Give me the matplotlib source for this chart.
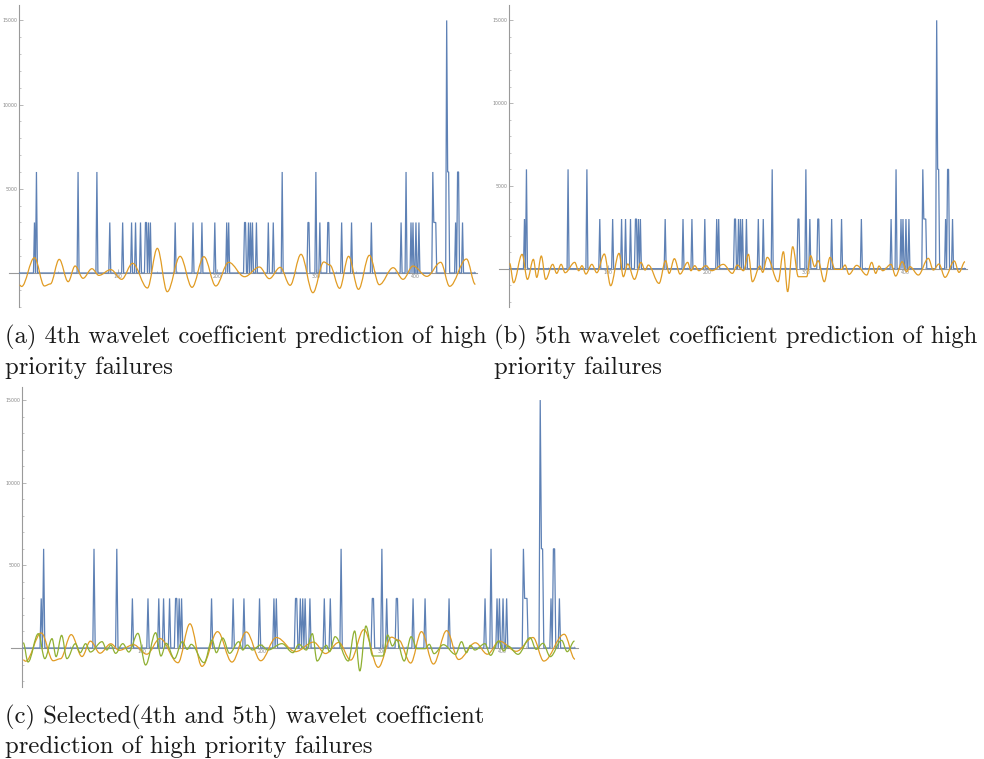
import numpy as np
import matplotlib
matplotlib.use("Agg")
import matplotlib.pyplot as plt
from matplotlib.path import Path
from matplotlib.patches import PathPatch
from matplotlib.ticker import FixedLocator, MultipleLocator

# ---- data -------------------------------------------------------------
# high priority failures per period (nonzero entries; all other periods are 0)
n_periods = 461
fail_x = [16, 18, 60, 79, 92, 105, 114, 118, 123, 128, 129, 131, 133, 158,
          176, 185, 198, 210, 212, 228, 229, 232, 234, 236, 240, 252, 257,
          266, 292, 293, 300, 304, 312, 313, 326, 336, 356, 386, 391, 396,
          398, 401, 404, 418, 419, 420, 421, 432, 433, 434, 441, 443, 444,
          448]
fail_v = [3000, 6000, 6000, 6000, 3000, 3000, 3000, 3000, 3000, 3000, 3000,
          3000, 3000, 3000, 3000, 3000, 3000, 3000, 3000, 3000, 3000, 3000,
          3000, 3000, 3000, 3000, 3000, 6000, 3000, 3000, 6000, 3000, 3000,
          3000, 3000, 3000, 3000, 3000, 6000, 3000, 3000, 3000, 3000, 6000,
          3000, 3000, 3000, 15000, 6000, 6000, 3000, 6000, 6000, 3000]

# turning points of the 4th wavelet coefficient prediction
w4_x = [1, 3, 16, 26, 32, 41, 50, 57, 65, 74, 81, 93, 104, 115, 130, 140,
        150, 163, 175, 187, 199, 212, 228, 243, 253, 264, 274, 285, 297, 308,
        314, 324, 333, 343, 354, 364, 378, 388, 398, 412, 426, 435, 452, 461]
w4_y = [-720, -800, 910, -770, -650, 810, -515, 415, -315, 255, -140, 200,
        -375, 575, -890, 1465, -1110, 990, -850, 970, -770, 635, -220, 355,
        -335, 335, -730, 1110, -1170, 655, 475, -910, 990, -970, 1050, -695,
        315, -375, 415, -200, 635, -790, 830, -675]

# turning points of the 5th wavelet coefficient prediction
w5_x = [1, 5, 13.6, 19, 25, 28.4, 33, 37.4, 44.5, 48.5, 53, 57, 66.7, 70.7,
        74, 78, 84, 89, 96.6, 103, 111.4, 115.8, 120.2, 127, 133.6, 137.7,
        141, 151.8, 158.5, 162, 167.3, 173, 180.7, 184, 187.8, 192, 199, 205,
        216.7, 225.8, 230.8, 237, 242, 246, 253.7, 256.4, 261, 272, 277.3,
        281.6, 286.7, 292.4, 300.8, 304.8, 308.8, 312.3, 318.6, 324.4, 329.4,
        336, 339.5, 343.5, 351.3, 361.4, 366.4, 370.5, 373.8, 377.5, 385.9,
        390.6, 397.3, 401.7, 405, 413.5, 423.6, 428.6, 434.3, 440.4, 449.8,
        454.5, 460.6]
w5_y = [320, -845, 866, -644, 564, -523, 765, -644, 262, -282, 262, -242,
        382, -121, 181, -322, 262, -242, 886, -1027, 926, -483, 282, -644,
        382, -81, 221, -886, 483, -282, 604, -322, 382, -121, 181, -121, 181,
        -121, 262, -282, 221, -121, 866, -785, 161, -221, 684, -785, 1027,
        -1389, 1329, -483, -483, 785, 121, 483, -785, 684, -40, -40, 221,
        -342, 201, -382, 382, -282, 161, -121, 262, -443, 423, -181, 121,
        -382, 624, -81, 282, -523, 463, -221, 423]

x_ticks = [100, 200, 300, 400]
y_ticks = [5000, 10000, 15000]

captions = [
    ["(a) 4th wavelet coefficient prediction of high", "priority failures"],
    ["(b) 5th wavelet coefficient prediction of high", "priority failures"],
    ["(c) Selected(4th and 5th) wavelet coefficient",
     "prediction of high priority failures"],
]

# ---- style ------------------------------------------------------------
BLUE = "#5e81b5"
ORANGE = "#e19c24"
GREEN = "#8fb032"
AXIS = "#9a9a9a"

W, H = 984, 759
fig = plt.figure(figsize=(W / 100, H / 100), dpi=100)

periods = np.arange(1, n_periods + 1)
failures = np.zeros(n_periods)
failures[np.array(fail_x) - 1] = fail_v


def smooth_path(xs, ys, k=0.36):
    """Cubic Bezier path through turning points with level tangents."""
    verts = [(xs[0], ys[0])]
    codes = [Path.MOVETO]
    for i in range(len(xs) - 1):
        h = (xs[i + 1] - xs[i]) * k
        verts += [(xs[i] + h, ys[i]), (xs[i + 1] - h, ys[i + 1]),
                  (xs[i + 1], ys[i + 1])]
        codes += [Path.CURVE4] * 3
    return Path(verts, codes)


def make_axes(px_left, px_right, px_top, px_bottom, xlim, ylim):
    ax = fig.add_axes([px_left / W, 1 - px_bottom / H,
                       (px_right - px_left) / W, (px_bottom - px_top) / H])
    ax.set_xlim(*xlim)
    ax.set_ylim(*ylim)
    ax.patch.set_alpha(0)
    for s in ("top", "right"):
        ax.spines[s].set_visible(False)
    for s in ("left", "bottom"):
        ax.spines[s].set_position(("data", 0))
        ax.spines[s].set_color(AXIS)
        ax.spines[s].set_linewidth(0.8)
    ax.spines["bottom"].set_bounds(xlim[0], xlim[1])
    ax.xaxis.set_major_locator(FixedLocator(x_ticks))
    ax.xaxis.set_minor_locator(MultipleLocator(20))
    ax.yaxis.set_major_locator(FixedLocator(y_ticks))
    ax.yaxis.set_minor_locator(MultipleLocator(1000))
    ax.set_xticklabels([str(v) for v in x_ticks])
    ax.set_yticklabels([str(v) for v in y_ticks])
    ax.tick_params(which="major", length=3, width=0.5, color=AXIS,
                   labelsize=3.4, labelcolor="#888888", pad=1.0,
                   direction="in")
    ax.tick_params(which="minor", length=1.6, width=0.4, color=AXIS,
                   direction="in")
    return ax


def draw_failures(ax):
    ax.plot(periods, failures, color=BLUE, lw=0.9, zorder=3,
            solid_joinstyle="miter")


def draw_curve(ax, xs, ys, color, z=4):
    ax.add_patch(PathPatch(smooth_path(xs, ys), facecolor="none",
                           edgecolor=color, lw=0.9, zorder=z,
                           transform=ax.transData))


# (a)
ax_a = make_axes(9.3, 476.7, 5, 307, (-9.4, 462.3), (-2019, 15915))
draw_failures(ax_a)
draw_curve(ax_a, w4_x, w4_y, ORANGE)

# (b)
ax_b = make_axes(499.3, 966.7, 5, 307, (-9.4, 462.3), (-2313, 15924))
draw_failures(ax_b)
draw_curve(ax_b, w5_x, w5_y, ORANGE)

# (c)
ax_c = make_axes(11, 578, 387, 687, (-9.2, 463.5), (-2359, 15789))
draw_failures(ax_c)
draw_curve(ax_c, w4_x, w4_y, ORANGE, z=4)
draw_curve(ax_c, w5_x, w5_y, GREEN, z=5)

# captions
cap_pos = [(5, 343), (494, 343), (5, 723)]
for (cx, cy), lines in zip(cap_pos, captions):
    for j, line in enumerate(lines):
        fig.text(cx / W, 1 - (cy + 30.5 * j) / H, line, family="cmr10",
                 fontsize=17.8, color="#1a1a1a", va="baseline", ha="left")

fig.savefig("out.png", dpi=100)
